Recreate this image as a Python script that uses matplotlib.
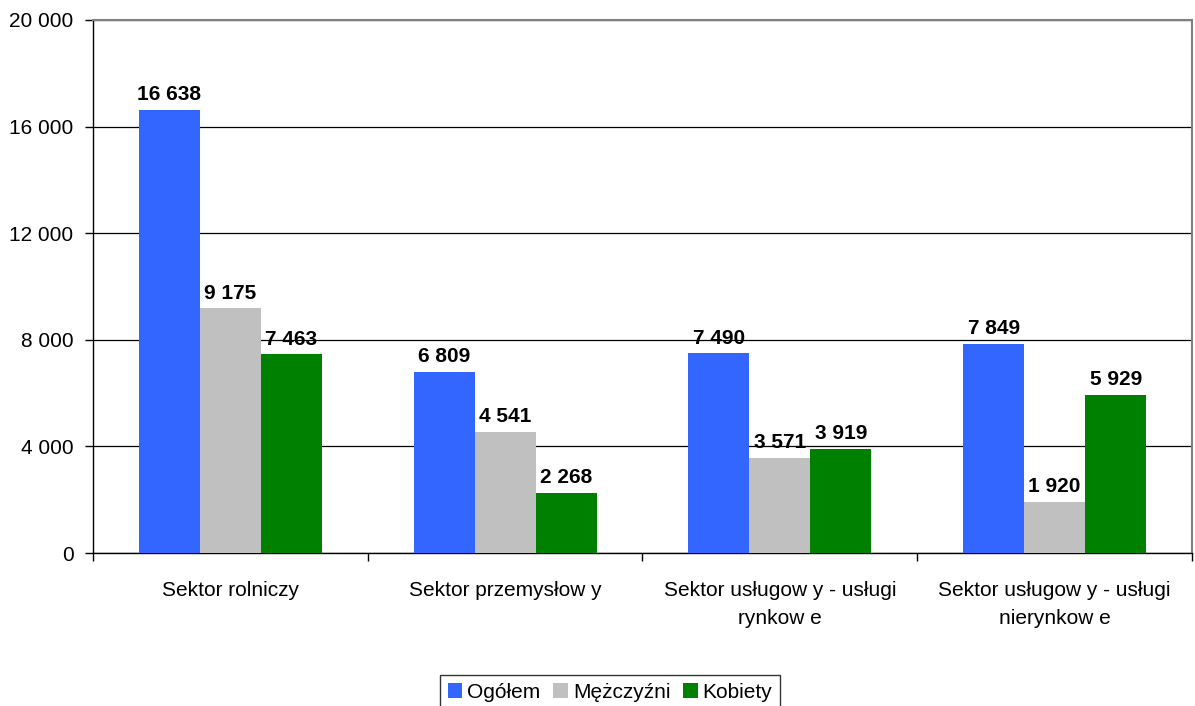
import numpy as np
import matplotlib.pyplot as plt
from matplotlib.ticker import FuncFormatter

plt.rcParams['font.family'] = ['Liberation Sans', 'DejaVu Sans']

categories = ['Sektor rolniczy', 'Sektor przemysłow y',
              'Sektor usługow y - usługi\nrynkow e',
              'Sektor usługow y - usługi\nnierynkow e']
series = ['Ogółem', 'Mężczyźni', 'Kobiety']
ogolem = [16638, 6809, 7490, 7849]
mezczyzni = [9175, 4541, 3571, 1920]
kobiety = [7463, 2268, 3919, 5929]
colors = ['#3366FF', '#C0C0C0', '#008000']


def fmt(v):
    return f'{int(v):,}'.replace(',', ' ')


fig = plt.figure(figsize=(11.95, 7.06), dpi=100)
ax = fig.add_axes([0.0778, 0.2167, 0.9197, 0.755])

x = np.arange(len(categories))
w = 0.222
for i, (vals, col, name) in enumerate(zip([ogolem, mezczyzni, kobiety], colors, series)):
    bars = ax.bar(x + (i - 1) * w, vals, w, color=col, label=name, zorder=3)
    for b, v in zip(bars, vals):
        ax.annotate(fmt(v), (b.get_x() + b.get_width() / 2, v),
                    xytext=(0, 4), textcoords='offset points',
                    ha='center', va='bottom', fontsize=15, fontweight='bold')

ax.set_xlim(-0.5, len(categories) - 0.5)
ax.set_ylim(0, 20000)
ax.set_yticks(np.arange(0, 20001, 4000))
ax.yaxis.set_major_formatter(FuncFormatter(lambda v, p: fmt(v)))
ax.grid(axis='y', color='black', lw=0.9, zorder=0)

ax.set_xticks(x)
ax.set_xticklabels(categories, fontsize=15, linespacing=1.6)
ax.set_xticks(np.arange(-0.5, len(categories), 1), minor=True)
ax.tick_params(axis='x', which='major', length=0, pad=20)
ax.tick_params(axis='x', which='minor', length=6, width=1, direction='out')
ax.tick_params(axis='y', labelsize=15, length=6, width=1, direction='out', pad=8)

for s in ['left', 'bottom']:
    ax.spines[s].set_color('black')
    ax.spines[s].set_linewidth(1)
for s in ['top', 'right']:
    ax.spines[s].set_color('#808080')
    ax.spines[s].set_linewidth(1.5)

leg = fig.legend(loc='lower center', bbox_to_anchor=(0.5105, -0.004), ncol=3,
                 fontsize=15, frameon=True, fancybox=False, edgecolor='black',
                 handlelength=0.7, handleheight=0.7, handletextpad=0.25,
                 columnspacing=0.6, borderpad=0.35, borderaxespad=0)
leg.get_frame().set_linewidth(1)

fig.savefig('out.png', dpi=100)
